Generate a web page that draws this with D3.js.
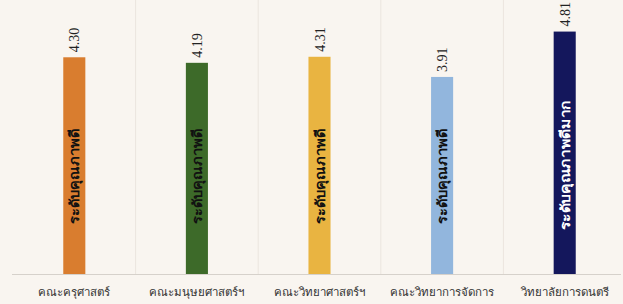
<!DOCTYPE html>
<html><head><meta charset="utf-8">
<script src="https://cdn.jsdelivr.net/npm/d3@7"></script>
<style>
html,body{margin:0;padding:0;background:#f9f5f0;}
svg{display:block;}
</style></head>
<body>
<script>
const categories = ["คณะครุศาสตร์","คณะมนุษยศาสตร์ฯ","คณะวิทยาศาสตร์ฯ","คณะวิทยาการจัดการ","วิทยาลัยการดนตรี"];
const values = [4.30, 4.19, 4.31, 3.91, 4.81];
const levels = ["ระดับคุณภาพดี","ระดับคุณภาพดี","ระดับคุณภาพดี","ระดับคุณภาพดี","ระดับคุณภาพดีมาก"];
const valueLabels = ["4.30","4.19","4.31","3.91","4.81"];
const colors = ["#d97d2f","#3d6a29","#e9b441","#92b6dd","#14175c"];
const levelColors = ["#111","#111","#111","#111","#fff"];

const W = 623, H = 304;
const svg = d3.select("body").append("svg").attr("width", W).attr("height", H);
svg.append("rect").attr("width", W).attr("height", H).attr("fill", "#f9f5f0");

const x = d3.scaleBand().domain(categories).range([13, 626]).paddingInner(0.82).paddingOuter(0.41);
const y = d3.scaleLinear().domain([0, 5]).range([274, 22]);

// faint category separators
const bounds = categories.slice(1).map(c => x(c) - x.step() * x.paddingInner() / 2);
svg.selectAll("line.sep").data(bounds).join("line")
  .attr("x1", d => d).attr("x2", d => d).attr("y1", 0).attr("y2", 274)
  .attr("stroke", "#ebe5de").attr("stroke-width", 1);

svg.selectAll("rect.bar").data(values).join("rect")
  .attr("x", (d, i) => x(categories[i]))
  .attr("width", x.bandwidth())
  .attr("y", d => y(d))
  .attr("height", d => y(0) - y(d))
  .attr("fill", (d, i) => colors[i]);

// axis
const axis = svg.append("g").attr("transform", "translate(0,274)")
  .call(d3.axisBottom(x).tickSize(0).tickPadding(14));
axis.select(".domain").attr("stroke", "#d6d1cb").attr("d", "M12,0.5H621");
axis.selectAll("text").attr("font-family", "'Noto Sans','DejaVu Sans',sans-serif")
  .attr("font-size", 11.5).attr("fill", "#333");

// value labels (rotated)
svg.selectAll("text.val").data(values).join("text")
  .attr("transform", (d, i) => `translate(${x(categories[i]) + x.bandwidth()/2 + 5},${y(d) - 5}) rotate(-90)`)
  .attr("text-anchor", "start")
  .attr("font-family", "'Liberation Serif','Times New Roman',serif")
  .attr("font-size", 14).attr("fill", "#222")
  .text((d, i) => valueLabels[i]);

// level labels inside bars
svg.selectAll("text.lvl").data(values).join("text")
  .attr("transform", (d, i) => `translate(${x(categories[i]) + x.bandwidth()/2 + 5},${i === 4 ? 230 : 224}) rotate(-90)`)
  .attr("text-anchor", "start")
  .attr("font-family", "'Noto Sans','DejaVu Sans',sans-serif")
  .attr("font-weight", "bold")
  .attr("font-size", 13)
  .attr("textLength", (d, i) => i === 4 ? 130 : 95)
  .attr("lengthAdjust", "spacingAndGlyphs")
  .attr("fill", (d, i) => levelColors[i])
  .text((d, i) => levels[i]);
</script>
</body></html>
